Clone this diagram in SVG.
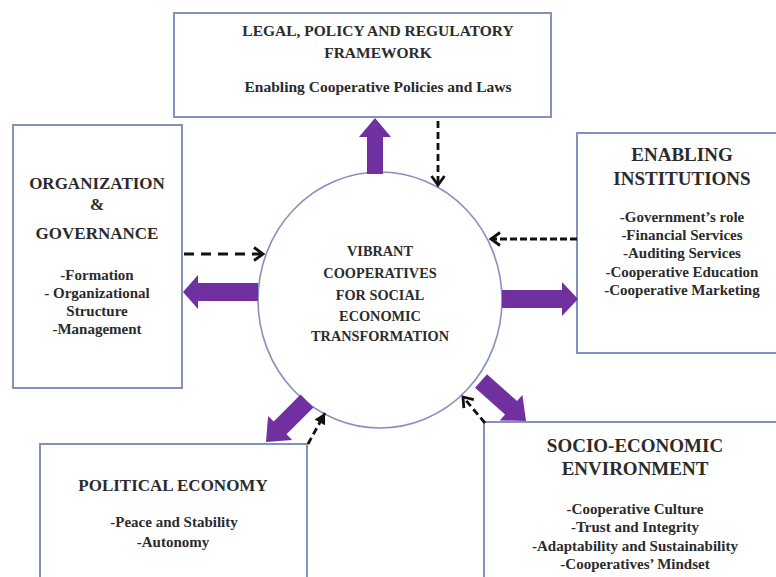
<svg xmlns="http://www.w3.org/2000/svg" width="776" height="577" viewBox="0 0 776 577">
<defs>
<style>
.box{fill:#fff;stroke:#8591bd;stroke-width:2}
.circ{fill:#fff;stroke:#8790bd;stroke-width:1.6}
text{font-family:"Liberation Serif","Times New Roman",serif;font-weight:bold;fill:#2b2b2b;text-anchor:middle}
.t15{font-size:15.5px}
.t17{font-size:17px}
.t19{font-size:19px}
.it{font-size:15px}
.ctr{font-size:14.3px}
.big{fill:#7030a0}
.dash{fill:none;stroke:#111;stroke-width:2.8;stroke-dasharray:7 4}
</style>
<marker id="chev" markerUnits="userSpaceOnUse" markerWidth="16" markerHeight="18" refX="12" refY="8" orient="auto" viewBox="0 0 16 16">
<path d="M3,1.5 L12,8 L3,14.5" fill="none" stroke="#111" stroke-width="2.8"/>
</marker>
<marker id="tri" markerUnits="userSpaceOnUse" markerWidth="12" markerHeight="12" refX="10" refY="5" orient="auto" viewBox="0 0 10 10">
<path d="M1,0 L10,5 L1,10 Z" fill="#111"/>
</marker>
</defs>
<rect width="776" height="577" fill="#fff"/>

<g id="center">
<ellipse class="circ" cx="380" cy="300" rx="122" ry="128"/>
<text class="ctr" x="380" y="256">VIBRANT</text>
<text class="ctr" x="380" y="278">COOPERATIVES</text>
<text class="ctr" x="380" y="300">FOR SOCIAL</text>
<text class="ctr" x="380" y="321">ECONOMIC</text>
<text class="ctr" x="380" y="341">TRANSFORMATION</text>
</g>

<g id="legal">
<rect class="box" x="174" y="13" width="377" height="104"/>
<text class="t15" x="378" y="36">LEGAL, POLICY AND REGULATORY</text>
<text class="t15" x="378" y="58">FRAMEWORK</text>
<text class="t15" x="378" y="92">Enabling Cooperative Policies and Laws</text>
</g>

<g id="organization">
<rect class="box" x="13" y="125" width="169" height="263"/>
<text class="t17" x="97" y="189">ORGANIZATION</text>
<text class="t17" x="97" y="210">&amp;</text>
<text class="t17" x="97" y="239">GOVERNANCE</text>
<text class="it" x="97" y="280">-Formation</text>
<text class="it" x="97" y="298">- Organizational</text>
<text class="it" x="97" y="316">Structure</text>
<text class="it" x="97" y="334">-Management</text>
</g>

<g id="institutions">
<rect class="box" x="577" y="133" width="215" height="220"/>
<text class="t19" x="682" y="161">ENABLING</text>
<text class="t19" x="682" y="185">INSTITUTIONS</text>
<text class="it" x="682" y="222">-Government’s role</text>
<text class="it" x="682" y="240">-Financial Services</text>
<text class="it" x="682" y="258">-Auditing Services</text>
<text class="it" x="682" y="277">-Cooperative Education</text>
<text class="it" x="682" y="295">-Cooperative Marketing</text>
</g>

<g id="political">
<rect class="box" x="40" y="444" width="267" height="150"/>
<text class="t17" x="173" y="491">POLITICAL ECONOMY</text>
<text class="it" x="174" y="527">-Peace and Stability</text>
<text class="it" x="173" y="547">-Autonomy</text>
</g>

<g id="socio">
<rect class="box" x="484" y="422" width="310" height="170"/>
<text class="t19" x="635" y="452">SOCIO-ECONOMIC</text>
<text class="t19" x="635" y="475">ENVIRONMENT</text>
<text class="it" x="635" y="514">-Cooperative Culture</text>
<text class="it" x="635" y="532">-Trust and Integrity</text>
<text class="it" x="635" y="551">-Adaptability and Sustainability</text>
<text class="it" x="635" y="569">-Cooperatives’ Mindset</text>
</g>

<g id="connectors">
<polygon class="big" points="367,174 367,137 359,137 375,118 391,137 383,137 383,174"/>
<polygon class="big" points="258,283 198,283 198,275 183,292 198,309 198,301 258,301"/>
<polygon class="big" points="502,290 562,290 562,282 578,299 562,316 562,308 502,308"/>
<polygon class="big" points="300.6,394.6 273.7,421.5 268.1,415.9 266,442 292.1,439.9 286.5,434.3 313.4,407.4"/>
<polygon class="big" points="487,374.3 517.1,401 522.4,395 526,421 499.8,420.4 505.1,414.4 475,387.7"/>
<line class="dash" x1="438" y1="121" x2="438" y2="185" marker-end="url(#chev)"/>
<line class="dash" x1="184" y1="254" x2="263" y2="254" style="stroke-dasharray:10 7" marker-end="url(#chev)"/>
<line class="dash" x1="577" y1="239" x2="491" y2="239" style="stroke-dasharray:7 3" marker-end="url(#chev)"/>
<line class="dash" x1="308" y1="444" x2="325" y2="413" marker-end="url(#tri)"/>
<line class="dash" x1="485" y1="423" x2="463" y2="397" marker-end="url(#chev)"/>
</g>
</svg>
